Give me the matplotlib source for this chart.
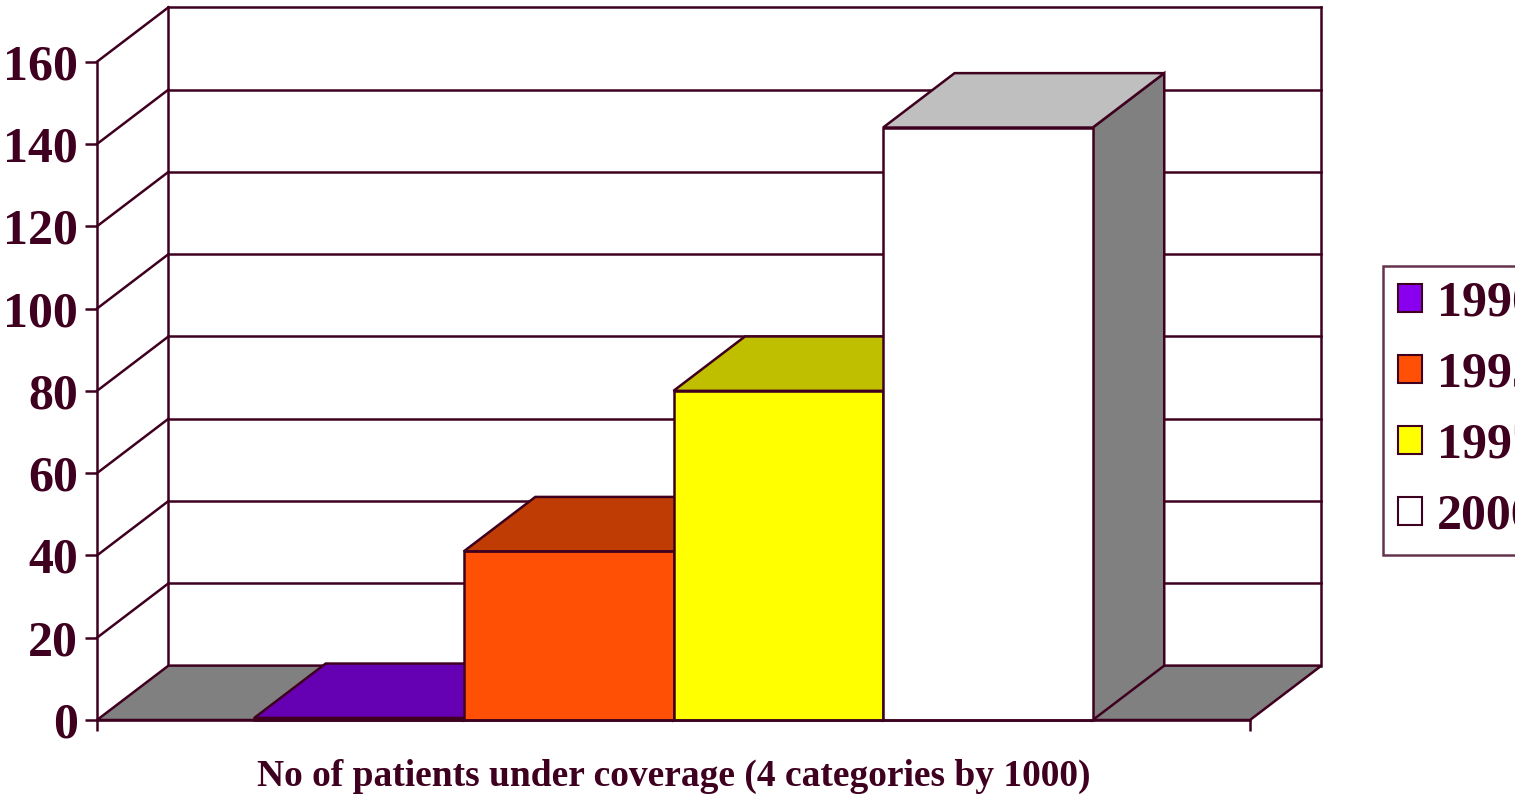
import matplotlib
matplotlib.use('Agg')
import matplotlib.pyplot as plt
from matplotlib.patches import Polygon, Patch, Rectangle
from matplotlib.colors import to_rgb

# ---- data ----
years = ['1990', '1995', '1997', '2000']
values = [0.5, 41, 80, 144]
front_colors = ['#8800EE', '#FF5005', '#FFFF00', '#FFFFFF']
yticks = [0, 20, 40, 60, 80, 100, 120, 140, 160]
xlabel = 'No of patients under coverage (4 categories by 1000)'

# ---- style ----
C = '#3F0020'
FLOOR = '#808080'
LW = 1.8
plt.rcParams['font.family'] = ['Liberation Serif', 'DejaVu Serif']
plt.rcParams['font.weight'] = 'bold'

W, H = 1533, 798
fig = plt.figure(figsize=(W / 100, H / 100), dpi=100)
fig.patch.set_facecolor('white')
ax = fig.add_axes([97 / W, 78 / H, 1153 / W, 658.3 / H])
ax.set_xlim(0, 1)
ax.set_ylim(0, 160)
ax.patch.set_visible(False)

DX, DY = 0.062, 13.22  # depth offset in data units
ymax = yticks[-1]

def shade(c, f):
    r, g, b = to_rgb(c)
    return (r * f, g * f, b * f)

# walls: gridlines on left wall and back wall
for v in yticks[1:]:
    ax.plot([0, DX], [v, v + DY], color=C, lw=LW, clip_on=False, zorder=1)
    ax.plot([DX, 1 + DX], [v + DY, v + DY], color=C, lw=LW, clip_on=False, zorder=1)
ax.plot([DX, DX], [DY, ymax + DY], color=C, lw=LW, clip_on=False, zorder=1)
ax.plot([1 + DX, 1 + DX], [DY, ymax + DY], color=C, lw=LW, clip_on=False, zorder=1)

# floor
ax.add_patch(Polygon([(0, 0), (1, 0), (1 + DX, DY), (DX, DY)], closed=True,
                     facecolor=FLOOR, edgecolor=C, lw=LW, clip_on=False, zorder=2))

# bars
n = len(values)
w = 1 / (n + 1.5)
gap = 0.75 * w
for i, (v, col) in enumerate(zip(values, front_colors)):
    x0 = gap + i * w
    x1 = x0 + w
    z = 3 + i
    side = Polygon([(x1, 0), (x1 + DX, DY), (x1 + DX, v + DY), (x1, v)], closed=True,
                   facecolor=shade(col, 0.5), edgecolor=C, lw=LW, clip_on=False, zorder=z)
    front = Polygon([(x0, 0), (x1, 0), (x1, v), (x0, v)], closed=True,
                    facecolor=col, edgecolor=C, lw=LW, clip_on=False, zorder=z)
    top = Polygon([(x0, v), (x1, v), (x1 + DX, v + DY), (x0 + DX, v + DY)], closed=True,
                  facecolor=shade(col, 0.75), edgecolor=C, lw=LW, clip_on=False, zorder=z)
    for p in (side, front, top):
        ax.add_patch(p)

# axes / ticks
for s in ('top', 'right'):
    ax.spines[s].set_visible(False)
for s in ('left', 'bottom'):
    ax.spines[s].set_color(C)
    ax.spines[s].set_linewidth(LW)
    ax.spines[s].set_zorder(10)
ax.set_yticks(yticks)
ax.set_yticklabels([str(t) for t in yticks])
ax.tick_params(axis='y', length=8.6, width=LW, color=C, labelsize=36,
               labelcolor=C, pad=5)
ax.set_xticks([0, 1])
ax.set_xticklabels(['', ''])
ax.tick_params(axis='x', length=8, width=LW, color=C, direction='out')

ax.set_xlabel(xlabel, fontsize=27, color=C, fontweight='bold')
ax.xaxis.label.set_va('baseline')
ax.xaxis.set_label_coords(0.5, -66 / 658.3)

# legend
handles = [Patch(facecolor=c, edgecolor=C, lw=1.5) for c in front_colors]
leg = ax.legend(handles, years, loc='upper left',
                bbox_to_anchor=(1383 / W, (H - 265.7) / H),
                bbox_transform=fig.transFigure, fontsize=36,
                frameon=True, fancybox=False, borderpad=0.3,
                handlelength=0.48, handleheight=0.48, handletextpad=0.3,
                labelspacing=0.5, borderaxespad=0)
leg.get_frame().set_edgecolor(C)
leg.get_frame().set_linewidth(LW)
for t in leg.get_texts():
    t.set_color(C)

# the source image is cut off on its right margin
fig.patches.append(Rectangle((1515 / W, 0), 1, 1, transform=fig.transFigure,
                             facecolor='white', edgecolor='none', zorder=100))

fig.savefig('out.png', dpi=100)
